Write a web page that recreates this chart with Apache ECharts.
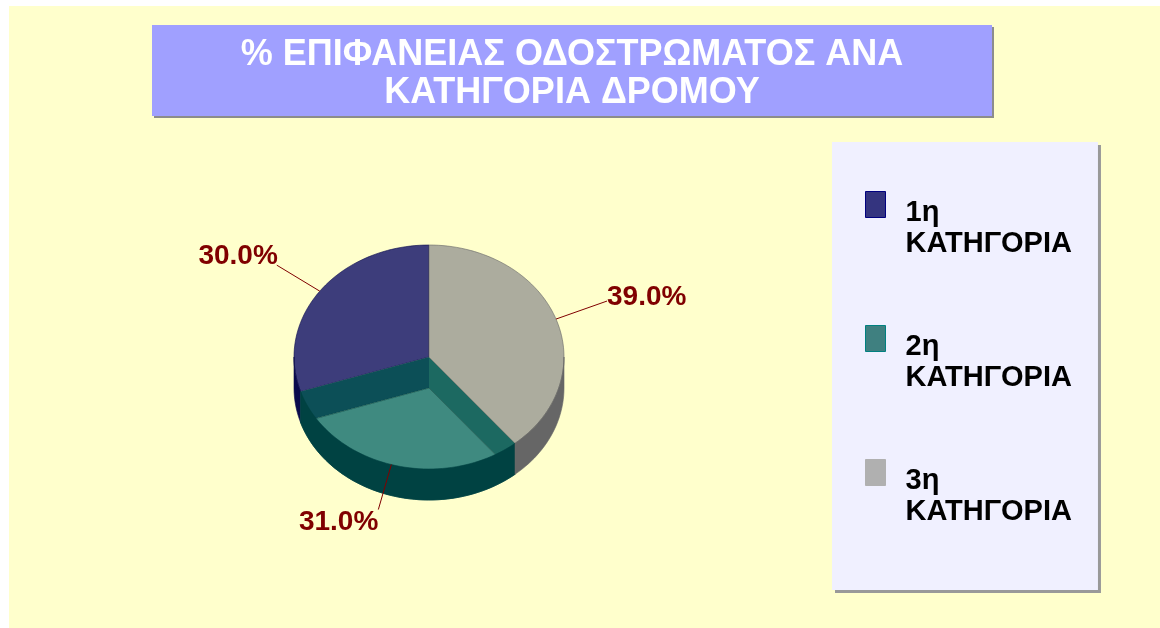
<!DOCTYPE html>
<html>
<head>
<meta charset="utf-8">
<script src="https://cdn.jsdelivr.net/npm/echarts@6/dist/echarts.min.js"></script>
<style>
  html, body { margin: 0; padding: 0; background: #fff; }
  #chart { width: 1160px; height: 628px; }
</style>
</head>
<body>
<div id="chart"></div>
<script>
const categories = ['1η\nΚΑΤΗΓΟΡΙΑ', '2η\nΚΑΤΗΓΟΡΙΑ', '3η\nΚΑΤΗΓΟΡΙΑ'];
const shares = [30.0, 31.0, 39.0];
const titleText = '% ΕΠΙΦΑΝΕΙΑΣ ΟΔΟΣΤΡΩΜΑΤΟΣ ΑΝΑ\nΚΑΤΗΓΟΡΙΑ ΔΡΟΜΟΥ';

const fontFamily = 'Arial, "Liberation Sans", sans-serif';
// top face / outer wall / legend swatch colours
const topColors = ['#3d3d7b', '#3f8a80', '#acac9e'];
const wallColors = ['#0a0a4c', '#004242', '#666666'];
const legendColors = ['#34347f', '#3f8080', '#b0b0b0'];
const legendBorders = ['#000080', '#008080', '#b0b0b0'];

// pie geometry in pixels (tilted 3d look)
const cx = 429, cy = 357, rx = 135, ry = 112, depth = 31;
const sunken = 1; // the 2nd slice has its face drawn at the bottom level
// leader line end (offset from rim) and text anchor (offset from line end)
const labelLayout = [
  { line: [-43, -26], text: [1, -9], align: 'right' },
  { line: [-13, 45], text: [0, 13], align: 'right' },
  { line: [51, -18], text: [0, -4], align: 'left' }
];

const total = shares.reduce((a, b) => a + b, 0);
const starts = shares.map((v, i) => shares.slice(0, i).reduce((a, b) => a + b, 0));

// angle in degrees, counter-clockwise from 12 o'clock
function pt(deg, level) {
  const r = deg * Math.PI / 180;
  return [cx - rx * Math.sin(r), cy - ry * Math.cos(r) + level];
}

function arc(a0, a1, level) {
  const pts = [];
  const n = Math.max(2, Math.ceil(Math.abs(a1 - a0) / 2));
  for (let k = 0; k <= n; k++) pts.push(pt(a0 + (a1 - a0) * k / n, level));
  return pts;
}

function renderSlice(params, api) {
  const i = params.seriesIndex;
  const v = api.value(0);
  const a0 = starts[i] / total * 360;
  const a1 = a0 + v / total * 360;
  const children = [];
  const faceLevel = i === sunken ? depth : 0;

  if (i === sunken) {
    [[a0, '#0c4f57'], [a1, '#1c6961']].forEach(([a, c]) => {
      children.push({
        type: 'polygon',
        shape: { points: [[cx, cy], pt(a, 0), pt(a, depth), [cx, cy + depth]] },
        style: { fill: c }
      });
    });
  }

  children.push({
    type: 'polygon',
    shape: { points: [[cx, cy + faceLevel]].concat(arc(a0, a1, faceLevel)) },
    style: { fill: topColors[i], stroke: wallColors[i], lineWidth: 0.6 }
  });

  const w0 = Math.max(a0, 90), w1 = Math.min(a1, 270);
  if (w1 > w0) {
    children.push({
      type: 'polygon',
      shape: { points: arc(w0, w1, 0).concat(arc(w1, w0, depth)) },
      style: { fill: wallColors[i], stroke: wallColors[i], lineWidth: 0.6 }
    });
  }

  const mid = (a0 + a1) / 2;
  const rim = pt(mid, 0);
  const L = labelLayout[i];
  const end = [rim[0] + L.line[0], rim[1] + L.line[1]];
  children.push({
    type: 'polyline',
    shape: { points: [rim, end] },
    style: { stroke: '#800000', lineWidth: 1 }
  });
  children.push({
    type: 'text',
    x: end[0] + L.text[0],
    y: end[1] + L.text[1],
    style: {
      text: (v / total * 100).toFixed(1) + '%',
      fill: '#800000',
      fontSize: 28,
      fontWeight: 'bold',
      fontFamily: fontFamily,
      align: L.align,
      verticalAlign: 'middle'
    }
  });

  return { type: 'group', children: children };
}

const chart = echarts.init(document.getElementById('chart'));

const option = {
  animation: false,
  backgroundColor: '#ffffff',
  graphic: [
    {
      type: 'rect',
      z: 0,
      shape: { x: 9, y: 6, width: 1160, height: 640 },
      style: { fill: '#ffffcc' }
    },
    {
      type: 'rect',
      z: 1,
      shape: { x: 152, y: 25, width: 840, height: 91 },
      style: {
        fill: '#a0a0ff',
        shadowColor: '#8c8c8c',
        shadowOffsetX: 2,
        shadowOffsetY: 2,
        shadowBlur: 0
      }
    }
  ],
  title: {
    text: titleText,
    left: 572,
    top: 36,
    padding: 0,
    textAlign: 'center',
    textStyle: {
      color: '#ffffff',
      fontSize: 36,
      fontWeight: 'bold',
      fontFamily: fontFamily,
      lineHeight: 38
    }
  },
  legend: {
    orient: 'vertical',
    left: 832,
    top: 142,
    padding: [8, 26, 63, 33],
    itemWidth: 20,
    itemHeight: 26,
    itemGap: 25,
    icon: 'rect',
    selectedMode: false,
    backgroundColor: '#f0f0ff',
    shadowColor: '#999999',
    shadowOffsetX: 3,
    shadowOffsetY: 3,
    shadowBlur: 0,
    data: categories.map((c, i) => ({
      name: c,
      itemStyle: { color: legendColors[i], borderColor: legendBorders[i], borderWidth: 1 }
    })),
    formatter: name => '{g| }\n' + name,
    textStyle: {
      color: '#000000',
      fontSize: 29,
      fontWeight: 'bold',
      fontFamily: fontFamily,
      lineHeight: 31,
      padding: [0, 0, 0, 15],
      rich: {
        g: { lineHeight: 47, height: 47, fontSize: 10 }
      }
    }
  },
  series: categories.map((c, i) => ({
    type: 'custom',
    name: c,
    coordinateSystem: 'none',
    itemStyle: { color: legendColors[i] },
    renderItem: renderSlice,
    data: [shares[i]]
  }))
};

chart.setOption(option);
</script>
</body>
</html>
